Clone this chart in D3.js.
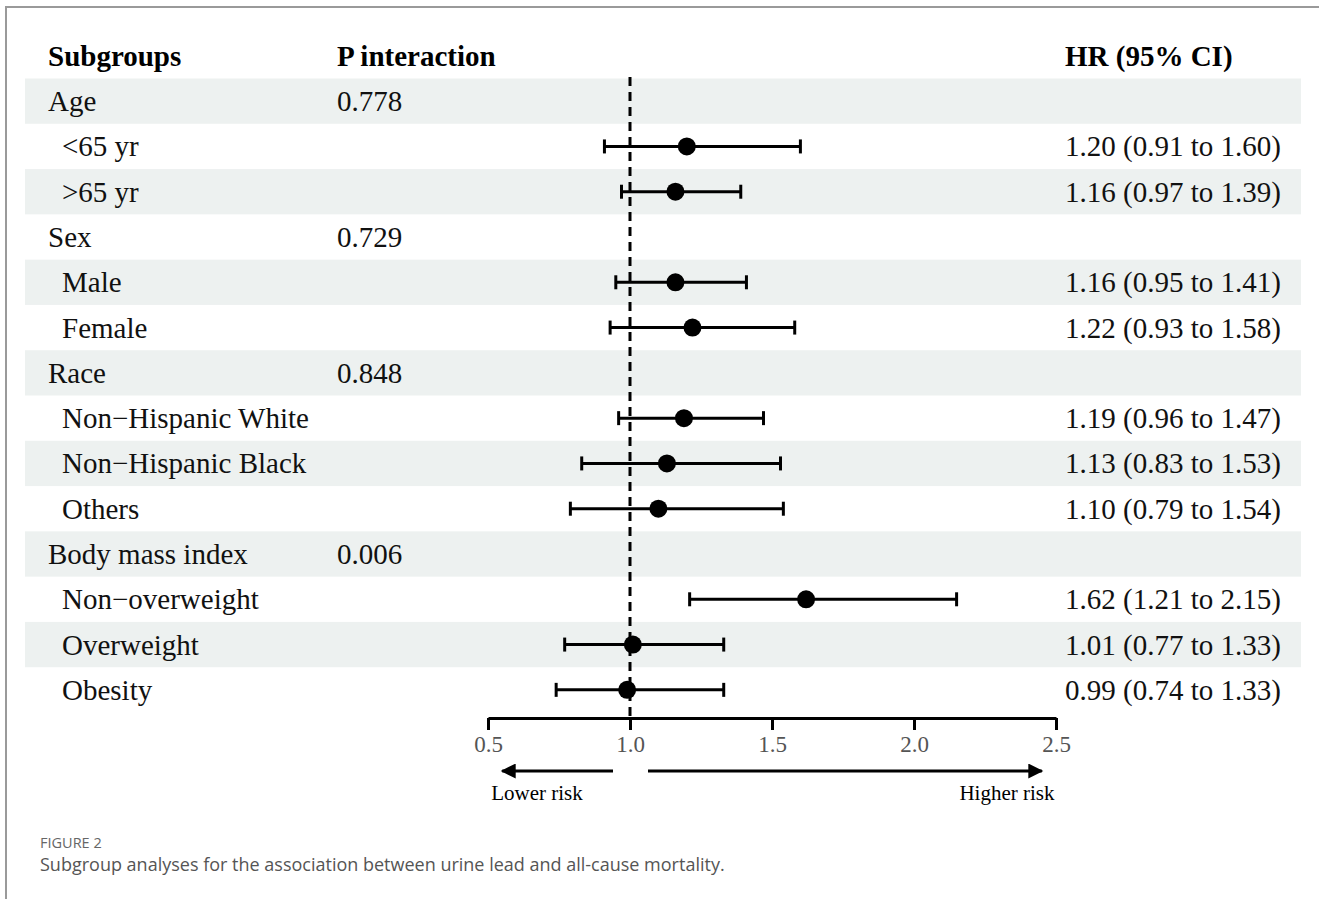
<!DOCTYPE html>
<html>
<head>
<meta charset="utf-8">
<script src="https://cdn.jsdelivr.net/npm/d3@7"></script>
<style>
  body { margin: 0; background: #fff; }
  svg { display: block; }
</style>
</head>
<body>
<div class="forest"></div>
<script>
// rows of the forest plot, top to bottom
const labels = ['Age', '<65 yr', '>65 yr', 'Sex', 'Male', 'Female', 'Race',
  'Non\u2212Hispanic White', 'Non\u2212Hispanic Black', 'Others',
  'Body mass index', 'Non\u2212overweight', 'Overweight', 'Obesity'];
const isGroup = [true, false, false, true, false, false, true, false, false, false, true, false, false, false];
const pInteraction = ['0.778', '', '', '0.729', '', '', '0.848', '', '', '', '0.006', '', '', ''];
const hr = [null, 1.20, 1.16, null, 1.16, 1.22, null, 1.19, 1.13, 1.10, null, 1.62, 1.01, 0.99];
const lower = [null, 0.91, 0.97, null, 0.95, 0.93, null, 0.96, 0.83, 0.79, null, 1.21, 0.77, 0.74];
const upper = [null, 1.60, 1.39, null, 1.41, 1.58, null, 1.47, 1.53, 1.54, null, 2.15, 1.33, 1.33];
const xTicks = [0.5, 1.0, 1.5, 2.0, 2.5];

const width = 1319, height = 899;
const serif = '"Liberation Serif", "Times New Roman", serif';

const rows = labels.map(function (d, i) {
  return { label: d, group: isGroup[i], p: pInteraction[i], hr: hr[i], lo: lower[i], hi: upper[i] };
});

let svg = d3.select('.forest').append('svg')
  .attr('width', width).attr('height', height);

// figure frame (top + left)
svg.append('path')
  .attr('d', `M6,${height} V7 H${width}`)
  .attr('fill', 'none').attr('stroke', '#9a9a9a').attr('stroke-width', 2);

let xScale = d3.scaleLinear().domain([0.5, 2.5]).range([488, 1056]);
let yScale = d3.scaleBand().domain(d3.range(rows.length)).range([78.5, 712.5]);

// row shading
svg.selectAll('.band')
  .data(rows.map((d, i) => i).filter(i => i % 2 === 0))
  .enter().append('rect')
  .attr('x', 25).attr('width', 1276)
  .attr('y', i => yScale(i)).attr('height', yScale.bandwidth())
  .attr('fill', '#edf1f0');

// headers
const headers = [['Subgroups', 48], ['P interaction', 337], ['HR (95% CI)', 1065]];
svg.selectAll('.hdr').data(headers).enter().append('text')
  .attr('x', d => d[1]).attr('y', 66)
  .style('font-family', serif).style('font-size', '29px').style('font-weight', 'bold')
  .text(d => d[0]);

const mid = i => yScale(i) + yScale.bandwidth() / 2;

let text = svg.append('g').style('font-family', serif).style('font-size', '29px').attr('fill', '#111');
text.selectAll('.lab').data(rows).enter().append('text')
  .attr('x', d => d.group ? 48 : 62).attr('y', (d, i) => mid(i) + 10)
  .text(d => d.label);
text.selectAll('.p').data(rows).enter().append('text')
  .attr('x', 337).attr('y', (d, i) => mid(i) + 10)
  .text(d => d.p);
text.selectAll('.ci').data(rows).enter().append('text')
  .attr('x', 1065).attr('y', (d, i) => mid(i) + 10)
  .text(d => d.hr == null ? '' : `${d.hr.toFixed(2)} (${d.lo.toFixed(2)} to ${d.hi.toFixed(2)})`);

// reference line at HR = 1
svg.append('line')
  .attr('x1', xScale(1)).attr('x2', xScale(1))
  .attr('y1', 77).attr('y2', 718)
  .attr('stroke', '#000').attr('stroke-width', 3).attr('stroke-dasharray', '9,6');

// error bars + points
let est = svg.selectAll('.est').data(rows.map((d, i) => Object.assign({ i: i }, d)).filter(d => d.hr != null))
  .enter().append('g');
est.append('line')
  .attr('x1', d => xScale(d.lo)).attr('x2', d => xScale(d.hi))
  .attr('y1', d => mid(d.i)).attr('y2', d => mid(d.i))
  .attr('stroke', '#000').attr('stroke-width', 3);
est.append('line')
  .attr('x1', d => xScale(d.lo)).attr('x2', d => xScale(d.lo))
  .attr('y1', d => mid(d.i) - 7).attr('y2', d => mid(d.i) + 7)
  .attr('stroke', '#000').attr('stroke-width', 3);
est.append('line')
  .attr('x1', d => xScale(d.hi)).attr('x2', d => xScale(d.hi))
  .attr('y1', d => mid(d.i) - 7).attr('y2', d => mid(d.i) + 7)
  .attr('stroke', '#000').attr('stroke-width', 3);
est.append('circle')
  .attr('cx', d => xScale(d.hr)).attr('cy', d => mid(d.i))
  .attr('r', 9).attr('fill', '#000');

// x axis
let axis = svg.append('g').attr('transform', 'translate(0,718)')
  .call(d3.axisBottom(xScale).tickValues(xTicks).tickFormat(d3.format('.1f')).tickSize(12).tickSizeOuter(0));
axis.select('.domain').attr('stroke-width', 3);
axis.selectAll('.tick line').attr('stroke-width', 3);
axis.selectAll('.tick text')
  .attr('y', 18)
  .style('font-family', serif).style('font-size', '23px').attr('fill', '#555');

// arrows
const defs = svg.append('defs');
defs.append('marker').attr('id', 'arrow')
  .attr('viewBox', '0 0 10 10').attr('refX', 9).attr('refY', 5)
  .attr('markerWidth', 7).attr('markerHeight', 5).attr('orient', 'auto')
  .attr('markerUnits', 'strokeWidth')
  .append('path').attr('d', 'M0,0 L10,5 L0,10 Z').attr('fill', '#000');
svg.append('line')
  .attr('x1', 613).attr('x2', xScale(0.55)).attr('y1', 771).attr('y2', 771)
  .attr('stroke', '#000').attr('stroke-width', 3).attr('marker-end', 'url(#arrow)');
svg.append('line')
  .attr('x1', 648).attr('x2', xScale(2.45)).attr('y1', 771).attr('y2', 771)
  .attr('stroke', '#000').attr('stroke-width', 3).attr('marker-end', 'url(#arrow)');
svg.append('text').attr('x', 537).attr('y', 800).attr('text-anchor', 'middle')
  .style('font-family', serif).style('font-size', '21px').text('Lower risk');
svg.append('text').attr('x', 1007).attr('y', 800).attr('text-anchor', 'middle')
  .style('font-family', serif).style('font-size', '21px').text('Higher risk');

// caption
svg.append('text').attr('x', 40).attr('y', 848)
  .style('font-family', '"Open Sans", sans-serif').style('font-size', '14.5px').attr('fill', '#666')
  .text('FIGURE 2');
svg.append('text').attr('x', 40).attr('y', 871)
  .style('font-family', '"Open Sans", sans-serif').style('font-size', '18px').attr('fill', '#555')
  .text('Subgroup analyses for the association between urine lead and all-cause mortality.');
</script>
</body>
</html>
